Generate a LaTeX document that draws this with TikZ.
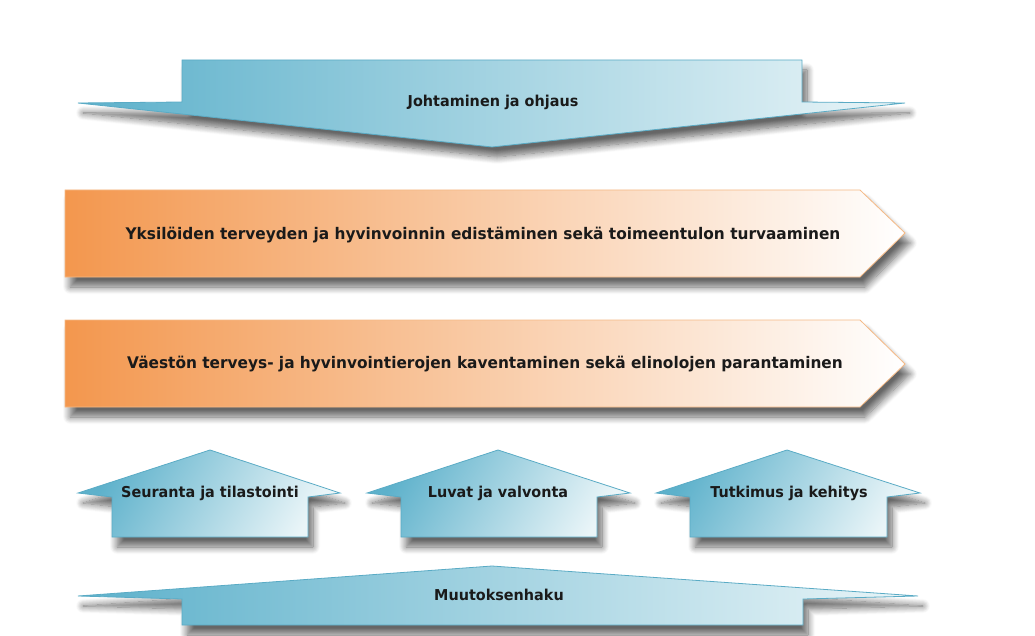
\documentclass[tikz,border=0pt]{standalone}
\usepackage{fontspec}
\setmainfont{DejaVu Sans}
\usetikzlibrary{shadows.blur}
\definecolor{blueL}{HTML}{5DB1CB}
\definecolor{blueR}{HTML}{EAF5F8}
\definecolor{blueE}{HTML}{5AABC5}
\definecolor{orL}{HTML}{F3974E}
\definecolor{orE}{HTML}{F5B985}
\definecolor{txt}{HTML}{1A1A1A}
\newcommand{\narrowtxt}[1]{\scalebox{0.96}[1]{#1}}
\tikzset{
 sh/.style={blur shadow={shadow xshift=5pt, shadow yshift=-10pt, shadow blur radius=7pt, shadow blur steps=10, shadow opacity=60}},
 bluearrow/.style={sh, left color=blueL, right color=blueR, draw=blueE, line width=0.8pt},
 uparrow/.style={sh, left color=blueL, right color=blueR, shading angle=60, draw=blueE, line width=0.8pt},
 orarrow/.style={sh, left color=orL, right color=white, draw=orE, line width=0.8pt},
 lbl/.style={font=\bfseries\fontsize{15}{17}\selectfont, text=txt, inner sep=0pt},
 biglbl/.style={font=\bfseries\fontsize{16}{18}\selectfont, text=txt, inner sep=0pt}
}
\begin{document}
\begin{tikzpicture}[x=1pt,y=-1pt]
\useasboundingbox (0,0) rectangle (1035,636);
% top arrow
\path[bluearrow] (182,60) -- (802,60) -- (802,102) -- (905,103) -- (492,147) -- (78,103) -- (182,102) -- cycle;
\node[lbl] (johto) at (493,102) {\narrowtxt{Johtaminen ja ohjaus}};
% orange arrows
\path[orarrow] (65,190) -- (860,190) -- (905,233) -- (860,277) -- (65,277) -- cycle;
\node[biglbl] (yks) at (483,235) {\narrowtxt{Yksilöiden terveyden ja hyvinvoinnin edistäminen sekä toimeentulon turvaaminen}};
\path[orarrow] (65,320) -- (860,320) -- (905,364) -- (860,407) -- (65,407) -- cycle;
\node[biglbl] (vaest) at (485,364) {\narrowtxt{Väestön terveys- ja hyvinvointierojen kaventaminen sekä elinolojen parantaminen}};
% up arrows
\path[uparrow] (112,537) -- (112,497) -- (78,493) -- (210,450) -- (340,493) -- (308,497) -- (308,537) -- cycle;
\node[lbl] (seur) at (210,493) {\narrowtxt{Seuranta ja tilastointi}};
\path[uparrow] (401,537) -- (401,497) -- (367,493) -- (498,450) -- (630,493) -- (597,497) -- (597,537) -- cycle;
\node[lbl] (luvat) at (498,493) {\narrowtxt{Luvat ja valvonta}};
\path[uparrow] (690,537) -- (690,497) -- (656,493) -- (787,450) -- (920,493) -- (887,497) -- (887,537) -- cycle;
\node[lbl] (tutk) at (789,493) {\narrowtxt{Tutkimus ja kehitys}};
% bottom arrow
\path[bluearrow] (182,625) -- (182,599) -- (78,596) -- (492,566) -- (918,596) -- (803,599) -- (803,625) -- cycle;
\node[lbl] (muut) at (499,595) {\narrowtxt{Muutoksenhaku}};
\end{tikzpicture}
\end{document}
